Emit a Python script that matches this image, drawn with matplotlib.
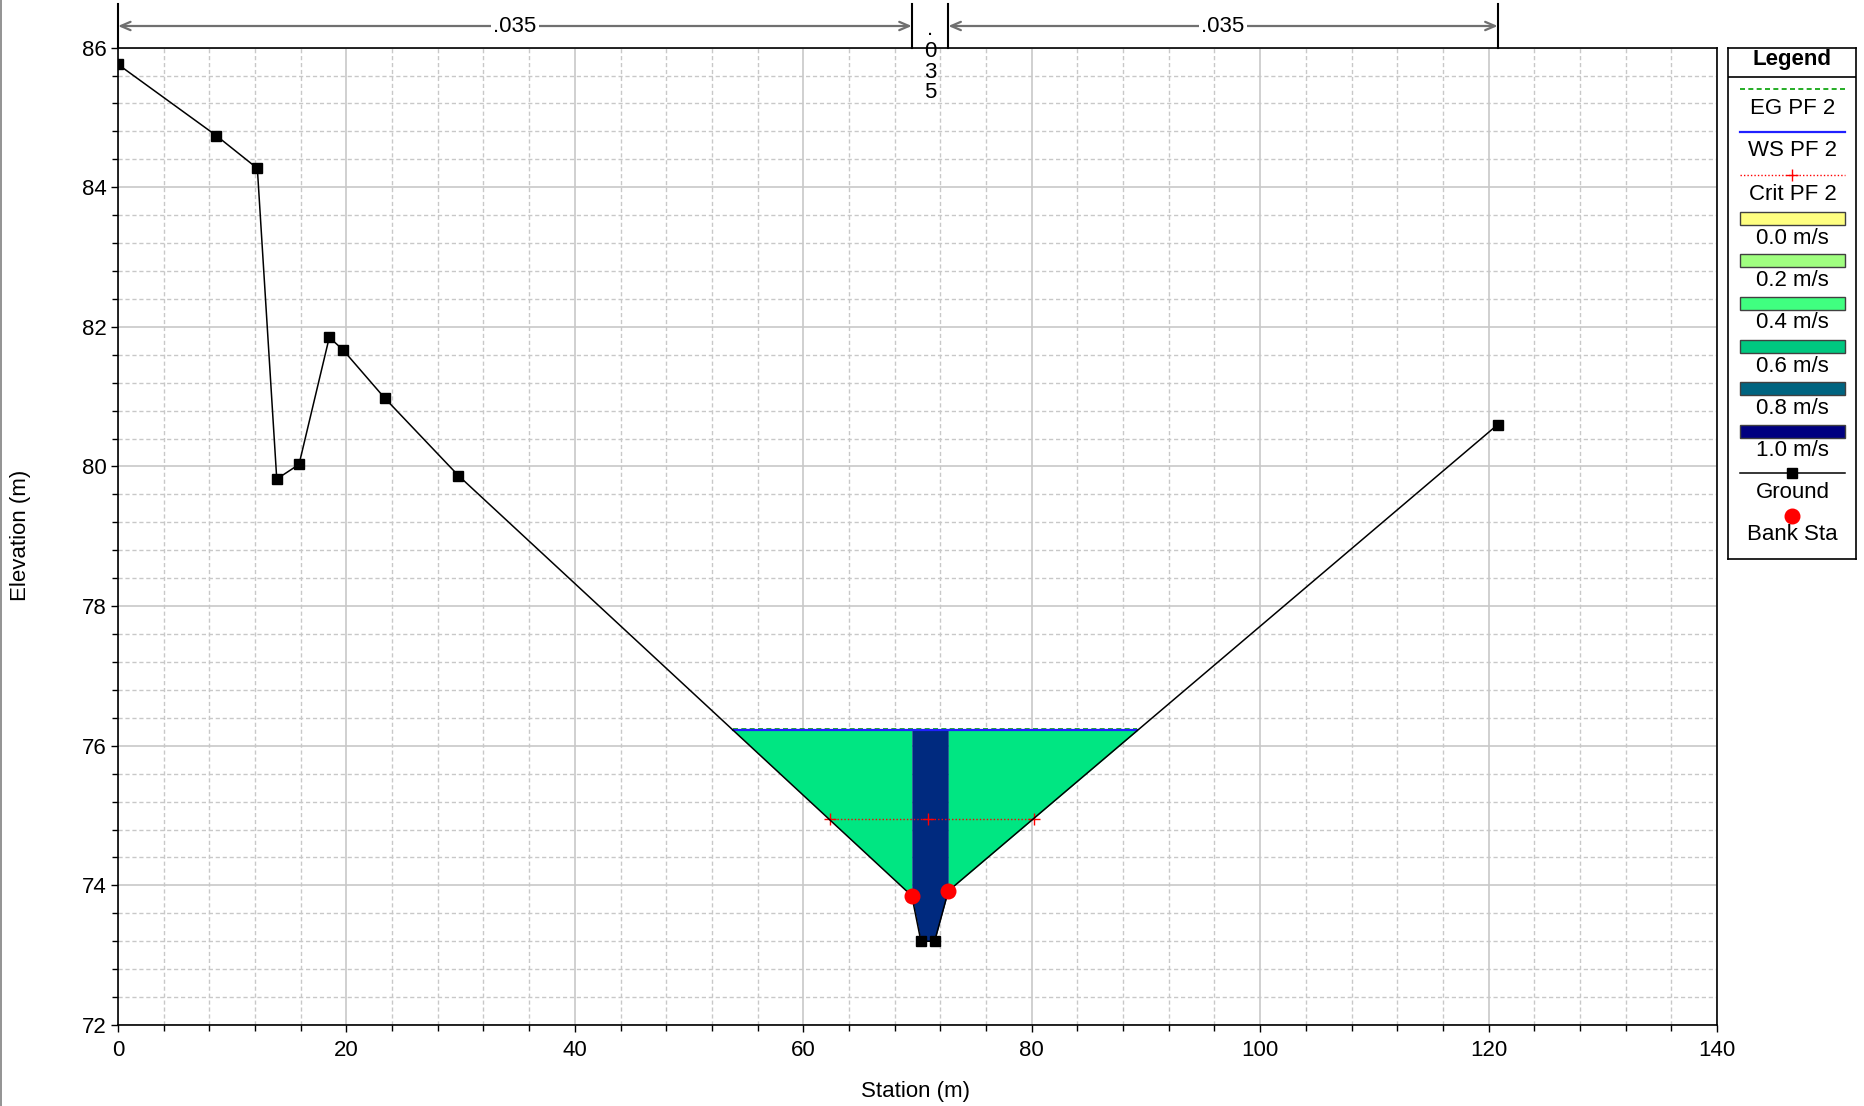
import numpy as np
import matplotlib
matplotlib.use("Agg")
import matplotlib.pyplot as plt
from matplotlib.patches import Rectangle
from matplotlib.lines import Line2D

plt.rcParams['font.family'] = ['Liberation Sans', 'DejaVu Sans']

# ---------------- data ----------------
ground_sta = [0.0, 8.6, 12.2, 13.9, 15.85, 18.5, 19.7, 23.35, 29.8, 69.5, 70.3, 71.5, 72.7, 120.8]
ground_elev = [85.76, 84.74, 84.27, 79.82, 80.03, 81.85, 81.67, 80.98, 79.87, 73.85, 73.2, 73.2, 73.92, 80.6]
bank_sta = [69.5, 72.7]
bank_elev = [73.85, 73.92]
ws_elev = 76.22
eg_elev = 76.245
crit_elev = 74.95
crit_sta = [62.3, 70.9, 80.2]
n_values = [".035", ".035", ".035"]
n_bounds = [0.0, 69.5, 72.7, 120.8]
vel_labels = ["0.0 m/s", "0.2 m/s", "0.4 m/s", "0.6 m/s", "0.8 m/s", "1.0 m/s"]
vel_colors = ["#FFFF80", "#A0FF80", "#40FF80", "#00C880", "#006480", "#000080"]
overbank_color = "#00E682"
channel_color = "#002A7F"

FS = 16

gs = np.array(ground_sta)
ge = np.array(ground_elev)

fig = plt.figure(figsize=(18.65, 11.06), dpi=100)
ax = fig.add_axes([118/1865, 1-1025/1106, (1717-118)/1865, (1025-47.6)/1106])

# water extent (intersections of WS with ground)
def crossings(level):
    xs = []
    for i in range(len(gs)-1):
        y0, y1 = ge[i]-level, ge[i+1]-level
        if y0 == 0:
            xs.append(gs[i])
        elif y0*y1 < 0:
            xs.append(gs[i] + (gs[i+1]-gs[i]) * y0/(y0-y1))
    return xs
cr = crossings(ws_elev)
wet = [c for c in cr if c > 40]
ws_left, ws_right = min(wet), max(wet)

def fill_region(xa, xb, color):
    inner = [s for s in gs if xa < s < xb]
    xx = np.array([xa] + inner + [xb])
    yy = np.interp(xx, gs, ge)
    ax.fill_between(xx, yy, ws_elev, where=yy <= ws_elev+1e-9, interpolate=True,
                    color=color, lw=0, zorder=2)

fill_region(ws_left, bank_sta[0], overbank_color)
fill_region(bank_sta[0], bank_sta[1], channel_color)
fill_region(bank_sta[1], ws_right, overbank_color)

# lines
ax.plot([ws_left, ws_right], [eg_elev, eg_elev], color="#00A000", ls=(0, (3, 2)), lw=1.2, zorder=4)
ax.plot([ws_left, ws_right], [ws_elev, ws_elev], color="#2020FF", lw=1.6, zorder=4)
ax.plot([crit_sta[0], crit_sta[-1]], [crit_elev, crit_elev], color="#FF0000", ls=(0, (1, 1.5)), lw=1.0, zorder=4)
ax.plot(crit_sta, [crit_elev]*len(crit_sta), ls='none', marker='+', color="#FF0000", ms=8, mew=1.0, zorder=4)
ax.plot(gs, ge, color="black", lw=1.1, marker='s', ms=7, mfc='black', zorder=5)
ax.plot(bank_sta, bank_elev, ls='none', marker='o', color="#FF0000", ms=10.5, zorder=6)

# axes style
ax.set_xlim(0, 140)
ax.set_ylim(72, 86)
ax.set_xticks(np.arange(0, 141, 20))
ax.set_xticks(np.arange(0, 141, 4), minor=True)
ax.set_yticks(np.arange(72, 86.1, 2))
ax.set_yticks(np.arange(72, 86.01, 0.4), minor=True)
ax.grid(which='major', color='#C8C8C8', lw=1.2, ls='-', zorder=0)
ax.grid(which='minor', color='#C8C8C8', lw=1.0, ls=(0, (3, 2)), zorder=0)
ax.set_axisbelow(True)
ax.tick_params(which='major', direction='out', length=5, width=1, labelsize=FS, pad=3, colors='black')
ax.tick_params(which='minor', direction='out', length=4, width=1)
ax.tick_params(axis='x', which='major', pad=6)
for sp in ax.spines.values():
    sp.set_linewidth(1.2)
    sp.set_color('black')

fig.text(770*1.1894/1865, 1-1091/1106, "Station (m)", ha='center', va='center', fontsize=FS)
fig.text(21/1865, 0.516, "Elevation (m)", ha='center', va='center', rotation=90, fontsize=FS)

# Manning's n annotations above the axes
ytr = ax.get_xaxis_transform()
y_arrow = 1 + (47.6-26)/977.4
y_top = 1 + (47.6-4)/977.4
for b in n_bounds:
    ax.plot([b, b], [1.0, y_top], transform=ytr, color='black', lw=1.5, clip_on=False, zorder=7)
for i, (a, b) in enumerate(zip(n_bounds[:-1], n_bounds[1:])):
    if i == 1:
        for k, ch in enumerate(['.', '0', '3', '5']):
            yb = [35, 57, 78, 98][k]
            ax.text((a+b)/2, 1 + (47.6-yb)/977.4, ch, transform=ytr, ha='center', va='baseline',
                    fontsize=FS, clip_on=False, zorder=8)
        continue
    ax.annotate('', xy=(a, y_arrow), xytext=(b, y_arrow), xycoords=ytr, textcoords=ytr,
                arrowprops=dict(arrowstyle='<->,head_length=0.7,head_width=0.3', color='#707070', lw=1.6,
                                shrinkA=0, shrinkB=0), annotation_clip=False)
    ax.text((a+b)/2, y_arrow, n_values[i], transform=ytr, ha='center', va='center', fontsize=FS,
            bbox=dict(facecolor='white', edgecolor='none', pad=2), clip_on=False, zorder=8)

# legend (manual, in pixel-like coordinates)
lg = fig.add_axes([1728/1865, 1-559/1106, 128/1865, 511/1106])
lg.set_xlim(1728, 1856)
lg.set_ylim(559, 48)
lg.set_xticks([]); lg.set_yticks([])
for sp in lg.spines.values():
    sp.set_linewidth(1.2)
lg.text(1792, 60, "Legend", ha='center', va='center', fontsize=FS, fontweight='bold')
lg.plot([1728, 1856], [77, 77], color='black', lw=1.2)
x0, x1 = 1740, 1845
xm = (x0+x1)/2
lg.plot([x0, x1], [89, 89], color="#00A000", ls=(0, (3, 2)), lw=1.2)
lg.text(xm, 108, "EG PF 2", ha='center', va='center', fontsize=FS)
lg.plot([x0, x1], [132, 132], color="#2020FF", lw=1.6)
lg.text(xm, 151, "WS PF 2", ha='center', va='center', fontsize=FS)
lg.plot([x0, x1], [175, 175], color="#FF0000", ls=(0, (1, 1.5)), lw=1.0)
lg.plot([xm], [175], marker='+', color="#FF0000", ms=8)
lg.text(xm, 194, "Crit PF 2", ha='center', va='center', fontsize=FS)
patch_y = [218, 260, 303, 346, 388, 431]
for py, lab, col in zip(patch_y, vel_labels, vel_colors):
    lg.add_patch(Rectangle((x0, py-6.5), x1-x0, 13, facecolor=col, edgecolor='#404040', lw=1.0))
    lg.text(xm, py+20, lab, ha='center', va='center', fontsize=FS)
lg.plot([x0, x1], [473, 473], color='black', lw=1.1)
lg.plot([xm], [473], marker='s', color='black', ms=7)
lg.text(xm, 492, "Ground", ha='center', va='center', fontsize=FS)
lg.plot([xm], [516], marker='o', color='#FF0000', ms=10.5)
lg.text(xm, 535, "Bank Sta", ha='center', va='center', fontsize=FS)

fig.add_artist(Line2D([0.0006, 0.0006], [0, 1], transform=fig.transFigure, color='#808080', lw=1.2))

fig.savefig("out.png", dpi=100)
